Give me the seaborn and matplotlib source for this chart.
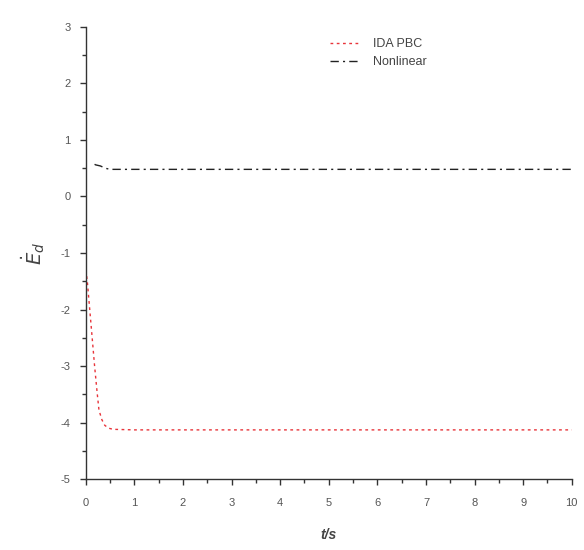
import pandas as pd
import matplotlib.pyplot as plt
import seaborn as sns
from matplotlib.ticker import MultipleLocator

# --- Data ---
t_ida = [0.0, 0.03, 0.08, 0.13, 0.18, 0.23, 0.27, 0.33, 0.39, 0.47, 0.56, 1.0, 2.0, 4.0, 6.0, 8.0, 10.0]
e_ida = [-1.3, -1.5, -2.0, -2.5, -3.0, -3.45, -3.78, -3.95, -4.05, -4.1, -4.12, -4.13, -4.13, -4.13, -4.13, -4.13, -4.13]

t_nl = [0.18, 0.2, 0.3, 0.4, 0.5, 1.0, 2.0, 4.0, 6.0, 8.0, 10.0]
e_nl = [0.57, 0.56, 0.54, 0.5, 0.48, 0.48, 0.48, 0.48, 0.48, 0.48, 0.48]

series_names = ['IDA PBC', 'Nonlinear']

df = pd.concat([
    pd.DataFrame({'t': t_ida, 'E': e_ida, 'method': series_names[0]}),
    pd.DataFrame({'t': t_nl, 'E': e_nl, 'method': series_names[1]}),
], ignore_index=True)

sns.set_theme(style="ticks")
plt.rcParams['font.family'] = ['Liberation Sans', 'DejaVu Sans']
plt.rcParams['axes.unicode_minus'] = False

fig = plt.figure(figsize=(5.84, 5.5), dpi=100)
ax = fig.add_axes([0.147, 0.129, 0.832, 0.822])

sns.lineplot(data=df, x='t', y='E', hue='method', style='method',
             palette={'IDA PBC': '#e8343a', 'Nonlinear': '#222222'},
             dashes={'IDA PBC': (2, 2.5), 'Nonlinear': (6, 3, 1.5, 3)},
             linewidth=1.0, ax=ax, sort=False, estimator=None)

ax.set_xlim(0, 10)
ax.set_ylim(-5, 3)
ax.xaxis.set_major_locator(MultipleLocator(1))
ax.xaxis.set_minor_locator(MultipleLocator(0.5))
ax.yaxis.set_major_locator(MultipleLocator(1))
ax.yaxis.set_minor_locator(MultipleLocator(0.5))
ax.tick_params(which='major', length=4, width=1, color='#333333', labelsize=8, labelcolor='#555555')
ax.tick_params(axis='x', which='major', pad=10)
ax.tick_params(axis='y', which='major', pad=7)
ax.tick_params(which='minor', length=3, width=1, color='#333333')
sns.despine(ax=ax)
for s in ['left', 'bottom']:
    ax.spines[s].set_color('#333333')
    ax.spines[s].set_linewidth(1.0)

ax.set_xlabel('t/s', fontstyle='italic', fontweight='bold', fontsize=10, color='#444444', labelpad=14)
ax.set_ylabel(r'$\dot{E}_d$', fontsize=14, color='#444444', labelpad=10)

leg = ax.legend(loc='upper left', bbox_to_anchor=(0.48, 1.0), frameon=False,
                fontsize=9, handlelength=2.4, labelspacing=0.5, handletextpad=1.0)
for txt in leg.get_texts():
    txt.set_color('#444444')

fig.savefig('out.png', dpi=100)
